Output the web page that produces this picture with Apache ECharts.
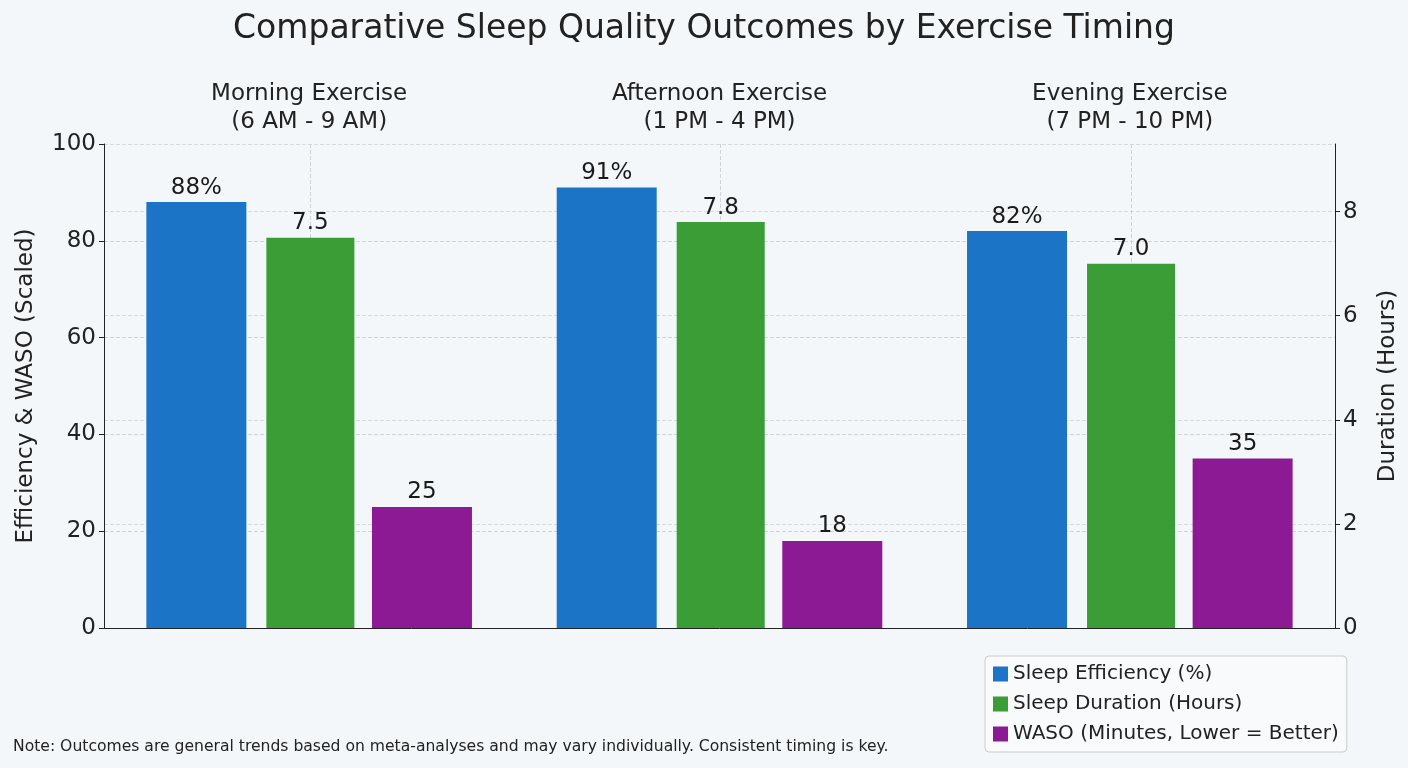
<!DOCTYPE html>
<html><head><meta charset="utf-8">
<script src="https://cdn.jsdelivr.net/npm/echarts@6/dist/echarts.min.js"></script>
<style>html,body{margin:0;background:#f3f7f9}#c{width:1408px;height:768px}</style>
</head><body><div id="c"></div>
<script>
const categories = ['Morning Exercise\n(6 AM - 9 AM)', 'Afternoon Exercise\n(1 PM - 4 PM)', 'Evening Exercise\n(7 PM - 10 PM)'];
const efficiency = [88, 91, 82];
const duration = [7.5, 7.8, 7.0];
const waso = [25, 18, 35];
const leftTicks = [0, 20, 40, 60, 80, 100];
const rightTicks = [0, 2, 4, 6, 8];

const font = 'DejaVu Sans';
const chart = echarts.init(document.getElementById('c'));
const lbl = (fmt) => ({show: true, position: 'top', fontSize: 23, color: '#1a1a1a', fontFamily: font, distance: 3, formatter: fmt});
chart.setOption({
  backgroundColor: '#f3f7f9',
  textStyle: {fontFamily: font},
  title: {text: 'Comparative Sleep Quality Outcomes by Exercise Timing', left: 'center', top: 8,
    textStyle: {fontSize: 33, fontWeight: 'normal', color: '#222', fontFamily: font}},
  graphic: [{type: 'text', left: 13, top: 739, style: {text: 'Note: Outcomes are general trends based on meta-analyses and may vary individually. Consistent timing is key.', fontSize: 15.6, fill: '#222', fontFamily: font}}],
  legend: {orient: 'vertical', left: 985, top: 656, itemWidth: 15, itemHeight: 15, itemGap: 10,
    backgroundColor: '#f8fafb', borderColor: '#ccc', borderWidth: 1, borderRadius: 4, padding: [8, 8, 8, 8],
    textStyle: {fontSize: 20, color: '#222', fontFamily: font}, icon: 'rect'},
  grid: {left: 104, right: 70, top: 144, bottom: 140},
  xAxis: [
    {type: 'category', data: categories, position: 'top',
      axisLine: {show: false}, axisTick: {show: false},
      axisLabel: {fontSize: 23, color: '#222', lineHeight: 28, margin: 8, fontFamily: font}},
    {type: 'category', data: categories, position: 'bottom',
      axisLine: {show: true, lineStyle: {color: '#222'}}, axisTick: {show: false}, axisLabel: {show: false}}
  ],
  yAxis: [
    {type: 'value', min: leftTicks[0], max: leftTicks[leftTicks.length - 1], interval: 20,
      name: 'Efficiency & WASO (Scaled)', nameLocation: 'middle', nameGap: 66,
      nameTextStyle: {fontSize: 23, color: '#222', fontFamily: font},
      axisLine: {show: true, lineStyle: {color: '#222'}}, axisTick: {show: true, lineStyle: {color: '#222'}},
      axisLabel: {fontSize: 23, color: '#222', fontFamily: font},
      splitLine: {lineStyle: {type: 'dashed', color: '#d0d4d8'}}},
    {type: 'value', min: rightTicks[0], max: 9.3, interval: 2,
      name: 'Duration (Hours)', nameLocation: 'middle', nameGap: 42, nameRotate: 90,
      nameTextStyle: {fontSize: 23, color: '#222', fontFamily: font},
      axisLine: {show: true, lineStyle: {color: '#222'}}, axisTick: {show: true, lineStyle: {color: '#222'}},
      axisLabel: {fontSize: 23, color: '#222', fontFamily: font, showMaxLabel: false},
      splitLine: {lineStyle: {type: 'dashed', color: '#d8dbde'}}}
  ],
  series: [
    {name: 'Sleep Efficiency (%)', type: 'bar', data: efficiency, barWidth: 100, barGap: '20%',
      itemStyle: {color: '#1b74c5'}, label: lbl('{c}%')},
    {name: 'Sleep Duration (Hours)', type: 'bar', yAxisIndex: 1, data: duration, barWidth: 88,
      itemStyle: {color: '#3a9d36'}, label: lbl(p => p.value.toFixed(1)), z: 3,
      markLine: {silent: true, symbol: 'none', label: {show: false}, z: 1,
        lineStyle: {type: 'dashed', color: '#d0d4d8', width: 1},
        data: categories.map(c => ({xAxis: c}))}},
    {name: 'WASO (Minutes, Lower = Better)', type: 'bar', data: waso, barWidth: 100,
      itemStyle: {color: '#8c1a94'}, label: lbl('{c}')}
  ]
});
</script></body></html>
